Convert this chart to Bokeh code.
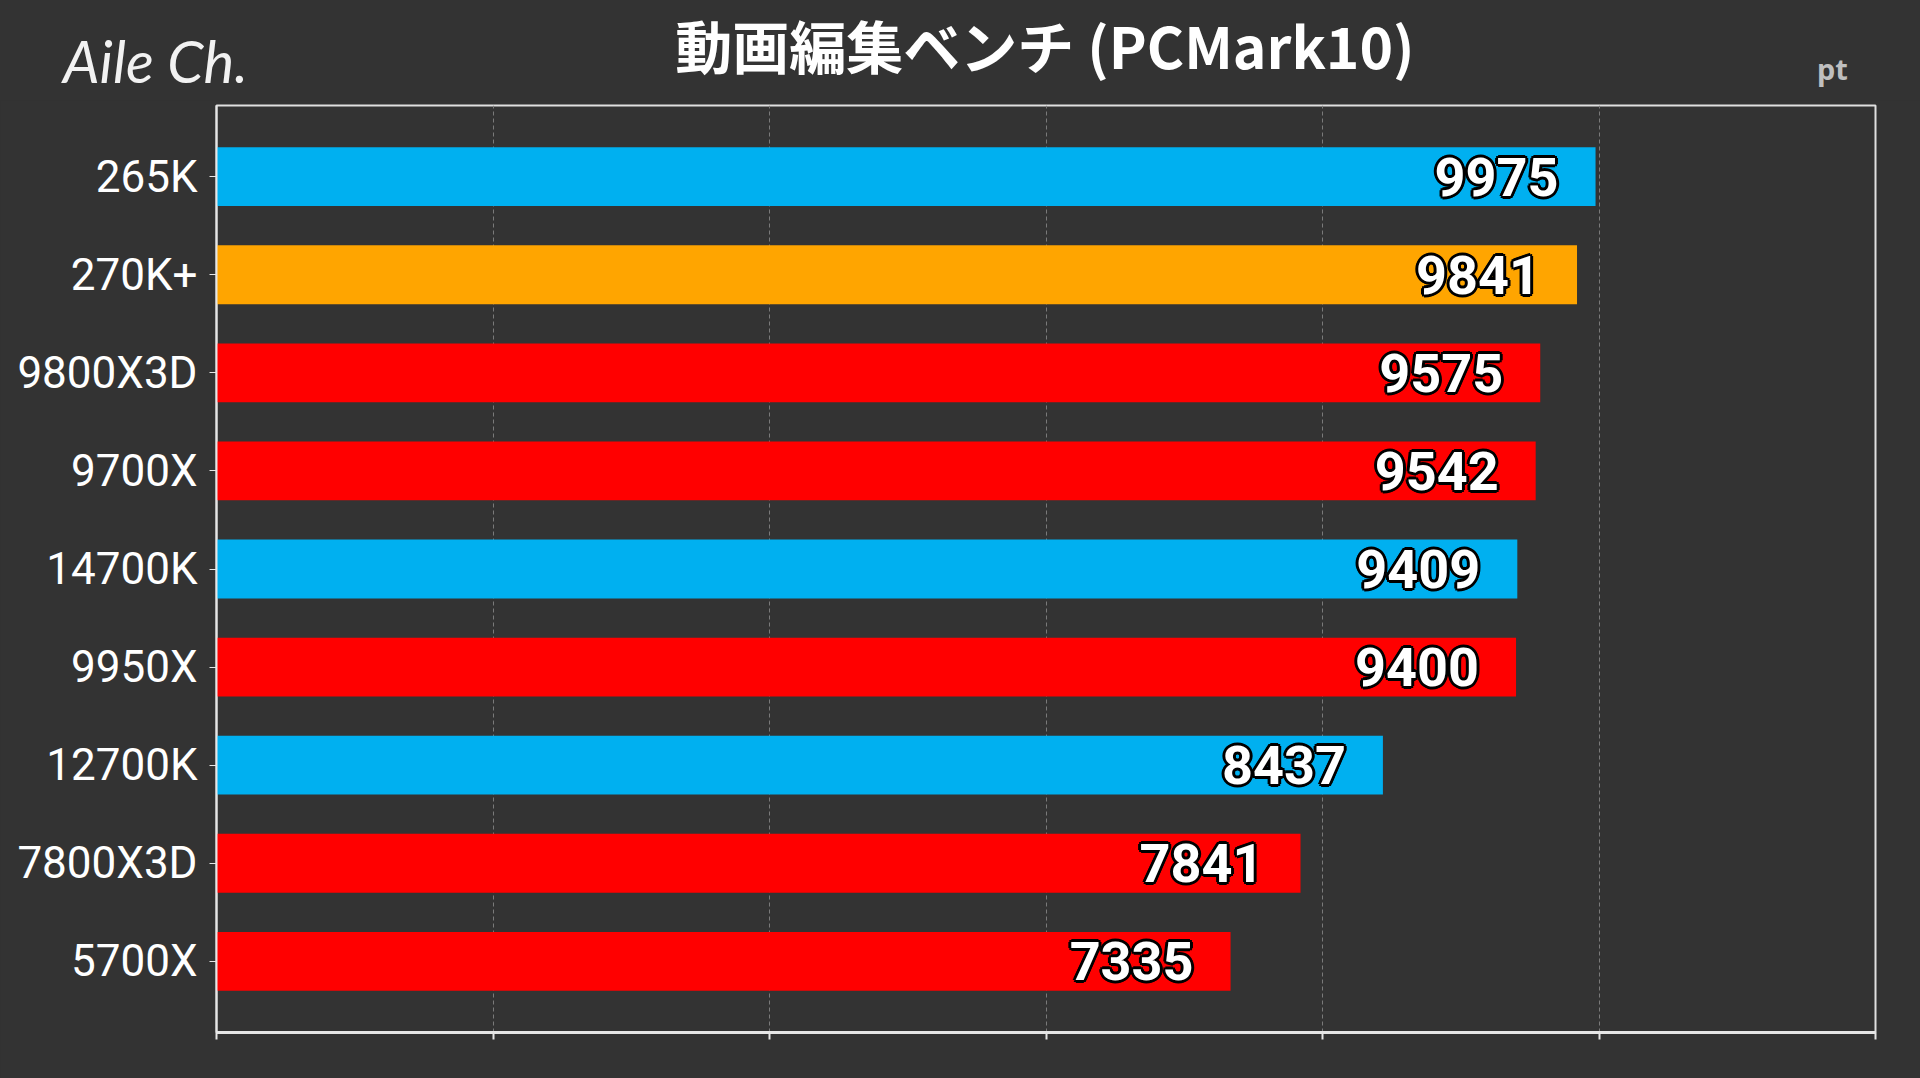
from bokeh.plotting import figure
from bokeh.models import (ColumnDataSource, CustomJSTickFormatter, FixedTicker,
                          FactorRange, Range1d, Div)
from bokeh.layouts import column
from bokeh.core.properties import value
from bokeh.embed import file_html
from bokeh.resources import INLINE

# ---- data ----
categories = ["265K", "270K+", "9800X3D", "9700X", "14700K", "9950X", "12700K", "7800X3D", "5700X"]
scores = [9975, 9841, 9575, 9542, 9409, 9400, 8437, 7841, 7335]
bar_colors = ["#00B0F0", "#FFA500", "#FF0000", "#FF0000", "#00B0F0", "#FF0000", "#00B0F0", "#FF0000", "#FF0000"]
x_ticks = [0, 2000, 4000, 6000, 8000, 10000, 12000]
title_text = "動画編集ベンチ (PCMark10)"
unit_text = "pt"
logo_text = "Aile Ch."

BG = "#333333"
src = ColumnDataSource(dict(cat=categories, score=scores, color=bar_colors,
                            label=[str(v) for v in scores]))

# ---- header (logo, title, unit) ----
header_html = (
    '<div style="position:relative;width:1920px;height:90px;background:#333333;">'
    '<span style="position:absolute;left:58px;top:27px;white-space:nowrap;line-height:1;'
    'font-family:Lato;font-style:italic;font-size:58px;color:#f2f2f2;">' + logo_text + '</span>'
    '<span style="position:absolute;left:1040px;top:11px;transform:translateX(-50%);white-space:nowrap;'
    'line-height:1;font-family:\'Noto Sans CJK JP\';font-weight:bold;font-size:57px;color:#ffffff;">'
    + title_text + '</span>'
    '<span style="position:absolute;left:1812px;top:49px;white-space:nowrap;line-height:1;'
    'font-family:\'Noto Sans\';font-weight:bold;font-size:29px;color:#bfbfbf;">' + unit_text + '</span>'
    '</div>'
)
header = Div(text=header_html, width=1920, height=90)

p = figure(width=1920, height=978, output_backend="svg", toolbar_location=None,
           y_range=FactorRange(factors=list(reversed(categories)), range_padding=0.225,
                               range_padding_units="absolute"),
           x_range=Range1d(0, 12000),
           min_border_left=216, min_border_right=45, min_border_top=5, min_border_bottom=46)
p.background_fill_color = BG
p.border_fill_color = BG
p.outline_line_color = "#e0e0e0"
p.outline_line_width = 2

p.hbar(y="cat", right="score", left=0, height=0.6, fill_color="color", line_color=None, source=src)

# value labels: black halo underneath, white text on top
halo = [(3, 0), (-3, 0), (0, 3), (0, -3), (2, 2), (-2, 2), (2, -2), (-2, -2)]
for dx, dy in halo:
    p.text(x="score", y="cat", text="label", source=src, text_align="right", text_baseline="middle",
           x_offset=-37 + dx, y_offset=dy, text_color="black", text_font=value("Roboto"),
           text_font_style="bold", text_font_size="54px")
p.text(x="score", y="cat", text="label", source=src, text_align="right", text_baseline="middle",
       x_offset=-37, text_color="white", text_font=value("Roboto"), text_font_style="bold",
       text_font_size="54px")

# axes
p.xaxis.ticker = FixedTicker(ticks=x_ticks)
p.xaxis.formatter = CustomJSTickFormatter(code="return ''")
p.xaxis.axis_line_color = "#e6e6e6"
p.xaxis.axis_line_width = 3
p.xaxis.major_tick_line_color = "#e6e6e6"
p.xaxis.major_tick_line_width = 2
p.xaxis.major_tick_out = 7
p.xaxis.major_tick_in = 0
p.xaxis.minor_tick_line_color = None

p.yaxis.axis_line_color = "#e6e6e6"
p.yaxis.axis_line_width = 2
p.yaxis.major_tick_line_color = "#e6e6e6"
p.yaxis.major_tick_out = 7
p.yaxis.major_tick_in = 0
p.yaxis.major_label_standoff = 12
p.yaxis.major_label_text_color = "white"
p.yaxis.major_label_text_font = "Roboto"
p.yaxis.major_label_text_font_size = "44px"

p.ygrid.grid_line_color = None
p.xgrid.ticker = FixedTicker(ticks=x_ticks)
p.xgrid.grid_line_color = "#7a7a7a"
p.xgrid.grid_line_dash = "4 3"
p.xgrid.grid_line_width = 1

layout = column(header, p, spacing=0, styles={"background-color": BG})

html = file_html(layout, INLINE)
html = html.replace("<body>", '<body style="background:#333333;">', 1)
open("out.html", "w").write(html)
